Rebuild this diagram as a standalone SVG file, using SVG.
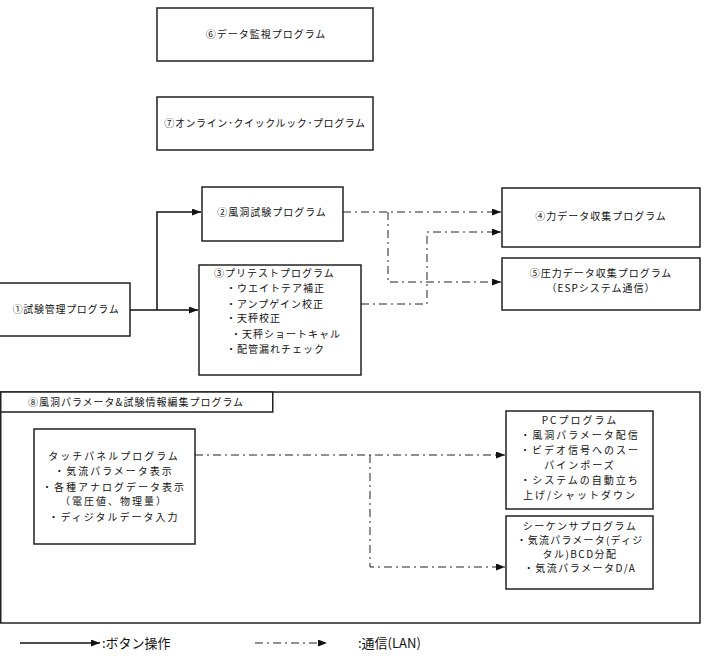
<svg xmlns="http://www.w3.org/2000/svg" width="705" height="656" viewBox="0 0 705 656">
<style>
.box{fill:#fff;stroke:#222;stroke-width:1.5}
.t{font-family:"Noto Sans CJK JP","Noto Sans",sans-serif;font-size:10px;fill:#111;letter-spacing:1px}
.w{letter-spacing:2px}
.c{text-anchor:middle}
.sol{fill:none;stroke:#111;stroke-width:1.5}
.dd{fill:none;stroke:#222;stroke-width:1;stroke-dasharray:8 4 2 4}
</style>
<defs>
<marker id="ah" markerUnits="userSpaceOnUse" markerWidth="10" markerHeight="8" refX="9" refY="3.5" orient="auto">
<path d="M0,0 L9,3.5 L0,7 z" fill="#111"/>
</marker>
</defs>
<rect width="705" height="656" fill="#fff"/>
<g id="n8">
<rect class="box" x="0.75" y="392" width="699.25" height="231"/>
<rect class="box" x="0.75" y="392" width="272" height="20"/>
<text class="t c" x="136" y="406">⑧風洞パラメータ&amp;試験情報編集プログラム</text>
</g>
<g id="n6">
<rect class="box" x="157" y="8" width="216" height="53"/>
<text class="t c" x="266" y="38">⑥データ監視プログラム</text>
</g>
<g id="n7">
<rect class="box" x="157" y="97" width="216" height="53"/>
<text class="t c" x="265" y="127" style="letter-spacing:0.6px">⑦オンライン･クイックルック･プログラム</text>
</g>
<g id="n1">
<rect class="box" x="-1" y="283" width="131" height="53"/>
<text class="t c" x="66" y="313" style="letter-spacing:0.7px">①試験管理プログラム</text>
</g>
<g id="n2">
<rect class="box" x="202" y="187" width="141" height="54"/>
<text class="t c" x="272" y="216">②風洞試験プログラム</text>
</g>
<g id="n3">
<rect class="box" x="199" y="265" width="162" height="110"/>
<text class="t" x="214" y="277">③プリテストプログラム</text>
<text class="t" x="226" y="292">・ウエイトテア補正</text>
<text class="t" x="226" y="308">・アンプゲイン校正</text>
<text class="t" x="226" y="322">・天秤校正</text>
<text class="t" x="231" y="338">・天秤ショートキャル</text>
<text class="t" x="226" y="353">・配管漏れチェック</text>
</g>
<g id="n4">
<rect class="box" x="502" y="188" width="198" height="59"/>
<text class="t c" x="601" y="220">④力データ収集プログラム</text>
</g>
<g id="n5">
<rect class="box" x="502" y="258" width="198" height="52"/>
<text class="t c" x="601" y="277">⑤圧力データ収集プログラム</text>
<text class="t c" x="601" y="292">（ESPシステム通信）</text>
</g>
<g id="touch">
<rect class="box" x="34" y="429" width="161" height="115"/>
<text class="t c w" x="114" y="460">タッチパネルプログラム</text>
<text class="t c w" x="114" y="475">・気流パラメータ表示</text>
<text class="t c w" x="114" y="491">・各種アナログデータ表示</text>
<text class="t c w" x="114" y="505">（電圧値、物理量）</text>
<text class="t c w" x="114" y="521">・ディジタルデータ入力</text>
</g>
<g id="pc">
<rect class="box" x="506" y="411" width="147" height="98"/>
<text class="t c w" x="580" y="424">PCプログラム</text>
<text class="t c w" x="580" y="439">・風洞パラメータ配信</text>
<text class="t c w" x="580" y="454">・ビデオ信号へのスー</text>
<text class="t c w" x="580" y="469">パインポーズ</text>
<text class="t c w" x="580" y="484">・システムの自動立ち</text>
<text class="t c w" x="580" y="499">上げ/シャットダウン</text>
</g>
<g id="seq">
<rect class="box" x="506" y="516" width="147" height="73"/>
<text class="t c" x="580" y="530" style="letter-spacing:1.5px">シーケンサプログラム</text>
<text class="t c" x="580" y="544" style="letter-spacing:1.2px">・気流パラメータ(ディジ</text>
<text class="t c" x="580" y="558" style="letter-spacing:1.5px">タル)BCD分配</text>
<text class="t c" x="580" y="572" style="letter-spacing:1.5px">・気流パラメータD/A</text>
</g>
<g id="connectors">
<path class="sol" d="M130,310 H198" marker-end="url(#ah)"/>
<path class="sol" d="M157,310 V212 H201" marker-end="url(#ah)"/>
<path class="dd" d="M343,212 H501" marker-end="url(#ah)"/>
<path class="dd" d="M388,212 V282 H501" marker-end="url(#ah)"/>
<path class="dd" d="M361,304 H427 V232 H501" marker-end="url(#ah)"/>
<path class="dd" d="M195,455 H505" marker-end="url(#ah)"/>
<path class="dd" d="M370,455 V567 H505" marker-end="url(#ah)"/>
</g>
<g id="legend">
<path class="sol" d="M20,643 H100" marker-end="url(#ah)"/>
<text class="t" x="102" y="648" style="font-size:13px;letter-spacing:0">:ボタン操作</text>
<path class="dd" d="M255,643 H327" marker-end="url(#ah)"/>
<text class="t" x="358" y="648" style="font-size:13px;letter-spacing:0">:通信(LAN)</text>
</g>
</svg>
